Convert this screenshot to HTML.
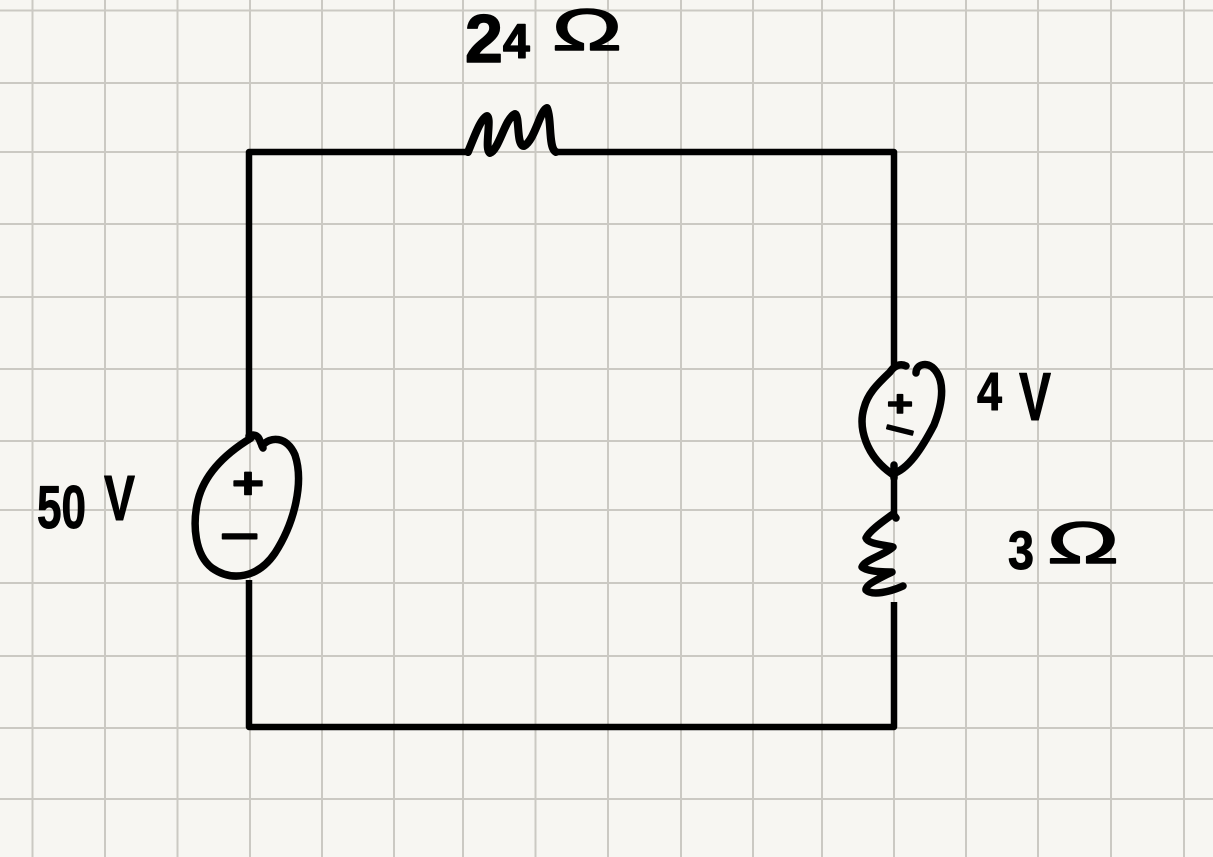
<!DOCTYPE html>
<html><head><meta charset="utf-8"><style>
html,body{margin:0;padding:0;background:#f7f6f2}
svg{display:block}
text{font-family:"Liberation Sans",sans-serif;fill:#000;stroke:#000;stroke-linejoin:round;stroke-linecap:round}
</style></head><body>
<svg width="1213" height="857" viewBox="0 0 1213 857" xmlns="http://www.w3.org/2000/svg">
<rect width="1213" height="857" fill="#f7f6f2"/>
<g stroke="#cbc9c3" stroke-width="2" fill="none">
<path d="M32.5 0V857M105 0V857M177.500 0V857M250 0V857M322 0V857M394 0V857M463 0V857M535.500 0V857M608 0V857M681 0V857M753 0V857M822 0V857M894 0V857M966 0V857M1038 0V857M1111 0V857M1184 0V857"/>
<path d="M0 10.500H1213M0 83H1213M0 152H1213M0 224H1213M0 297H1213M0 369H1213M0 441H1213M0 510H1213M0 583H1213M0 656H1213M0 728H1213M0 799H1213"/>
</g>
<g fill="none" stroke="#000" stroke-linecap="round" stroke-linejoin="round">
<path stroke-width="6.500" stroke-linecap="butt" d="M249 436V152H466M556 152H894V370M894 470V517M894 602V727H249V580"/>
<path stroke-width="8" d="M468 152C475 135 481 118 487 116C492 118 484 150 490 153C499 150 505 118 515 114C520 116 516 146 524 146C535 140 540 110 547 108C552 120 548 148 556 152"/>
<path stroke-width="7.500" d="M251 438C228 452 205 472 198 500C192 525 195 555 212 568C232 582 258 578 275 553C295 522 304 482 295 455C287 436 270 436 262 446"/>
<path stroke-width="7.500" d="M249 436C254 434 258 435 260 441L263 448"/>
<path stroke-width="7.500" d="M906 366C900 363 894 366 890 372C880 382 868 392 864 408C858 428 866 456 892 474C908 470 922 448 934 425C944 400 945 378 932 367C925 362 916 365 916 373"/>
<path stroke-width="7.500" d="M896 518L893 514C885 520 870 530 866 538C868 544 885 545 893 547C885 555 864 560 862 567C868 572 885 572 892 572C880 578 865 585 866 590C872 596 890 592 903 586"/>
<path stroke-width="7.500" d="M894 465V478"/>
</g>
<text font-weight="bold" stroke-width="1.500"><tspan x="465" y="62" font-size="68">2</tspan><tspan x="503" y="58" font-size="48">4</tspan></text>
<text x="552" y="50" font-size="58" stroke-width="1.500" textLength="70" lengthAdjust="spacingAndGlyphs">Ω</text>
<text x="37" y="528" font-size="60" font-weight="bold" stroke-width="1" textLength="49" lengthAdjust="spacingAndGlyphs">50</text>
<text x="104" y="520" font-size="64" font-weight="bold" stroke-width="1" textLength="31" lengthAdjust="spacingAndGlyphs">V</text>
<text x="977" y="410" font-size="54" font-weight="bold" stroke-width="1" textLength="25" lengthAdjust="spacingAndGlyphs">4</text>
<text x="1019" y="420" font-size="68" font-weight="bold" stroke-width="1" textLength="32" lengthAdjust="spacingAndGlyphs">V</text>
<text x="1008" y="569" font-size="54" font-weight="bold" stroke-width="1" textLength="26" lengthAdjust="spacingAndGlyphs">3</text>
<text x="1047" y="563" font-size="58" stroke-width="1.500" textLength="72" lengthAdjust="spacingAndGlyphs">Ω</text>
<text x="232" y="498" font-size="44" font-weight="bold" stroke-width="1.500" textLength="32" lengthAdjust="spacingAndGlyphs">+</text>
<text x="220" y="551" font-size="44" font-weight="bold" stroke-width="1.500" textLength="39" lengthAdjust="spacingAndGlyphs">−</text>
<text x="887" y="416" font-size="36" font-weight="bold" stroke-width="1.500" textLength="26" lengthAdjust="spacingAndGlyphs">+</text>
<text x="885" y="442" font-size="36" font-weight="bold" stroke-width="1.500" textLength="30" lengthAdjust="spacingAndGlyphs" transform="rotate(14 900 430)">−</text>
</svg>
</body></html>
